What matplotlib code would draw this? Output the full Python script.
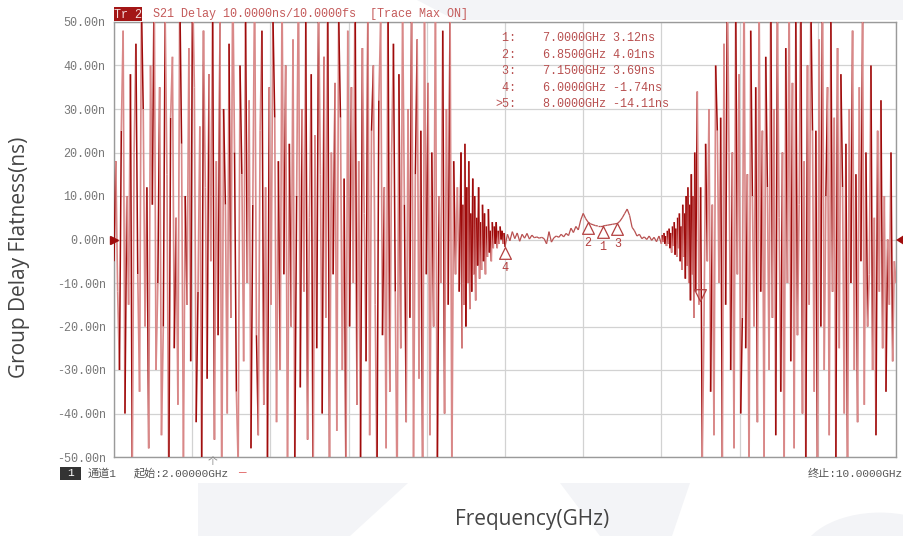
import numpy as np
import matplotlib.pyplot as plt
from matplotlib.patches import Polygon, Rectangle, Circle
from matplotlib.collections import LineCollection
from matplotlib.path import Path

# group delay flatness trace (ns)
left_vals = [-5, 18, -12, -30, 25, 48, -40, 10, -15, 38, -55, 20, 45, -8, -35, 55, 30, -20, 12, -48,
             40, 8, 62, -30, -10, 35, -45, -20, 52, 15, -58, 28, 42, -25, 5, -38, 58, 22, -50, 10,
             -15, 44, -28, 60, 35, -42, -12, 26, -55, 48, 12, -32, 38, -5, 56, -46, 18, -22, 50, -60,
             30, 8, -40, 45, -18, 62, 20, -35, -52, 40, 15, -28, 55, -10, 32, -48, 8, 60, -22, -45,
             25, 48, -38, 12, -58, 35, -15, 52, 28, -42, 18, -30, 58, -8, 40, -55, 22, -20, 46, -50,
             10, 62, -34, 30, -12, 50, -46, 5, 38, -60, 24, -25, 55, 15, -40, 42, -18, 60, -52, 20,
             -8, 36, -44, 52, 28, -30, 14, -58, 48, -20, 35, -10, 62, -38, 18, -50, 44, 6, -28, 56,
             -45, 25, 40, -15, -55, 32, 50, -22, 12, -48, 58, -35, 20, 45, -12, -60, 38, -25, 54, 8,
             -42, 30, -18, 60, -50, 15, 46, -32, 25, -55, 52, -8, 36, -45, 20, -20, 58, -58, 10, -10,
             48, -40, 30, -15, 55, -55, 18, -8, 12, -12]
decay_vals = [20, -25, 8, -15, 22, -20, 12, -10, 18, -16, 6, -12, 14, -8, 10, -14, 5, -6, 12, -9,
              4, -7, 8, -5, 6, -8, 3, -4, 7, -3, 2, -5, 4, -2, 3, -1, 4, -2, 2, -1, 3, 0, 2, -1, 1.5]
flat_vals = [-1.7, 1.2, -0.3, 1.8, 0.2, 1.5, -0.4, 1.2, 0.3, 1.4, 0.1, 1.0, 0.4, 0.6, 0.3, 0.5,
             0.2, -1.0, 1.8, -0.6, 0.4, 0.8, 0.5, 1.2, 0.6, 1.4, 0.9, 2.6, 1.6, 3.0, 2.2, 4.5,
             6.0, 4.8, 4.0, 3.6, 3.4, 3.2, 3.1, 3.1, 3.1, 3.2, 3.3, 3.4, 3.5, 3.6, 3.7, 4.2,
             5.0, 6.0, 7.0, 5.5, 2.8, 2.0, 0.8, 1.2, 0.2, 0.6, 0.0, 0.8, -0.2, 0.5, -0.5, 0.8, -1.0]
rise_vals = [1.0, -0.5, 1.5, -1, 0.8, -1.5, 2, -1, 2.5, -2, 1.5, -3, 3, -1.5, 4, -3.5, 2.5, -4, 5, -2,
             6, -5, 3, -7, 8, -4, 6, -9, 10, -6, 12, -10, 8, -14, 15, -8, 10, -18, 20, -12]
right_vals = [34, -15, 12, -50, -20, 22, -5, 30, -35, 8, -45, 40, 25, -10, 28, -52, 45, -15, 60, 20,
              -30, 20, -48, 55, -8, 38, -40, -18, 62, -25, 15, -55, 48, 10, -20, 35, -42, 58, -12, 25,
              -50, 42, 12, -30, 60, -18, 30, -45, 52, 5, -35, 20, -55, 44, -10, 58, -28, 36, -48, 50,
              -22, 8, 62, -40, 18, -52, 40, -15, 55, 25, -35, 25, -58, 46, -20, 60, -30, 10, 35, -45,
              50, -12, 28, -50, 44, -25, 38, 12, -40, 22, -55, 30, -10, 48, -30, 15, -42, 35, -5, 50,
              -38, 20, -20, -8, 40, -30, 5, -45, 25, -12, 32, -25, 10, -35, 0, -15, 20, -28, -5, -10]

# markers from the table
mk_names = ["1", "2", "3", "4", "5"]
mk_freq = [7.0, 6.85, 7.15, 6.0, 8.0]
mk_val = [3.12, 4.01, 3.69, -1.74, -14.11]

# linear sweep, piece by piece
freq = np.concatenate([
    np.linspace(2.0, 5.55, len(left_vals), endpoint=False),
    np.linspace(5.55, 6.0, len(decay_vals), endpoint=False),
    np.linspace(6.0, 7.6, len(flat_vals)),
    np.linspace(7.6, 7.95, len(rise_vals) + 1)[1:],
    np.linspace(7.95, 10.0, len(right_vals) + 1)[1:],
])
delay = np.concatenate([left_vals, decay_vals, flat_vals, rise_vals, right_vals]).astype(float)

W, H = 904, 536
fig = plt.figure(figsize=(W / 100, H / 100), dpi=100)


def fx(x):
    return x / W


def fy(y):
    return 1 - y / H


# faint watermark shapes behind everything
wm = '#f3f4f7'
for pts in [[(417, 0), (904, 0), (904, 20), (455, 20)],
            [(198, 483), (408, 483), (350, 536), (198, 536)],
            [(560, 483), (690, 483), (672, 536), (600, 536)]]:
    fig.patches.append(Polygon([(fx(a), fy(b)) for a, b in pts], closed=True,
                               transform=fig.transFigure, facecolor=wm, edgecolor='none', zorder=0))
fig.patches.append(Circle((fx(880), fy(560)), 80 / W, transform=fig.transFigure,
                          facecolor=wm, edgecolor='none', zorder=0))

ax = fig.add_axes([fx(114), fy(457), (896 - 114) / W, (457 - 22) / H])
ax.set_xlim(2, 10)
ax.set_ylim(-50, 50)
ax.set_xticks(np.linspace(2, 10, 11))
ax.set_yticks(np.arange(-50, 51, 10))
ax.grid(True, color='#d2d2d2', lw=0.9)
ax.set_axisbelow(True)
ax.tick_params(length=0, labelbottom=False)
ax.set_yticklabels(["%.2fn" % v for v in np.arange(-50, 51, 10)],
                   fontfamily='Liberation Mono', fontsize=8.5, color='#777777')
ax.tick_params(axis='y', pad=6)
for s in ax.spines.values():
    s.set_color('#9a9a9a')
    s.set_linewidth(1.0)

# trace: strokes drawn in a mix of dark and light reds like the instrument display
pts = np.column_stack([freq, delay])
segs = np.stack([pts[:-1], pts[1:]], axis=1)
f0, f1 = freq[:-1], freq[1:]
quiet = (f0 >= 6.0) & (f1 <= 7.6)
busy = ((f0 >= 5.55) & (f1 <= 6.0)) | ((f0 >= 7.6) & (f1 <= 7.95))
cols, lws = [], []
for i in range(len(segs)):
    if quiet[i]:
        cols.append('#b85050')
        lws.append(0.9)
    elif (busy[i] and i % 2 == 0) or i % 3 == 0:
        cols.append('#9e0a0a')
        lws.append(1.1)
    else:
        cols.append('#d98888')
        lws.append(1.2)
ax.add_collection(LineCollection(segs, colors=cols, linewidths=lws, zorder=3))

# marker triangles (apex on the trace)
up_tri = Path([(0, 0), (-0.5, -1), (0.5, -1), (0, 0)])
down_tri = Path([(0, 0), (-0.5, 1), (0.5, 1), (0, 0)])
mcol = '#b34040'
for n, f, v in zip(mk_names, mk_freq, mk_val):
    if n == "5":
        ax.plot(f, v, marker=down_tri, ms=17, mfc='none', mec=mcol, mew=0.9, zorder=4)
    else:
        ax.plot(f, v, marker=up_tri, ms=17, mfc='white', mec=mcol, mew=0.9, zorder=4)
        ax.annotate(n, (f, v), xytext=(0, -15), textcoords='offset points', ha='center',
                    va='center', fontfamily='Liberation Mono', fontsize=8.5, color=mcol, zorder=5)

# reference level arrows at 0
ax.plot(2, 0, marker='>', ms=6, color='#a00c0c', clip_on=False, zorder=6)
fig.patches.append(Polygon([(fx(896), fy(240)), (fx(904), fy(235)), (fx(904), fy(245))],
                           transform=fig.transFigure, facecolor='#a00c0c', edgecolor='none'))

# title bar
fig.patches.append(Rectangle((fx(114), fy(21)), 28 / W, 14 / H, transform=fig.transFigure,
                             facecolor='#a31616', edgecolor='none'))
mono = ['Liberation Mono', 'Noto Sans CJK SC']
fig.text(fx(128), fy(14.5), "Tr 2", ha='center', va='center', fontfamily=mono,
         fontsize=8.5, color='#f4dede')
fig.text(fx(153), fy(14.5), "S21 Delay 10.0000ns/10.0000fs  [Trace Max ON]", ha='left',
         va='center', fontfamily=mono, fontsize=8.5, color='#c45a5a')

# marker table
tab_y = [38, 55, 71, 88, 104]
for i, (n, f, v) in enumerate(zip(mk_names, mk_freq, mk_val)):
    lab = (">" if n == "5" else " ") + n + ":"
    fig.text(fx(495), fy(tab_y[i]), lab, ha='left', va='center', fontfamily=mono,
             fontsize=8.5, color='#b85050')
    fig.text(fx(543), fy(tab_y[i]), "%.4fGHz %.2fns" % (f, v), ha='left', va='center',
             fontfamily=mono, fontsize=8.5, color='#b85050')

# status row below the grid
fig.patches.append(Rectangle((fx(60), fy(480)), 21 / W, 13 / H, transform=fig.transFigure,
                             facecolor='#333333', edgecolor='none'))
fig.text(fx(70.5), fy(473.5), "1", ha='center', va='center', fontfamily=mono, fontsize=8,
         color='white')
fig.text(fx(88), fy(473.5), "通道1", ha='left', va='center', fontfamily=mono, fontsize=8,
         color='#555555')
fig.text(fx(134), fy(473.5), "起始:2.00000GHz", ha='left', va='center', fontfamily=mono,
         fontsize=8, color='#555555')
fig.text(fx(238), fy(473), "—", ha='left', va='center', fontfamily=mono, fontsize=9,
         color='#e06060')
fig.text(fx(903), fy(473.5), "终止:10.0000GHz", ha='right', va='center', fontfamily=mono,
         fontsize=8, color='#555555')
fig.text(fx(213), fy(461), "个", ha='center', va='center', fontfamily='Noto Sans CJK SC',
         fontsize=7, color='#888888')

# axis titles
fig.text(fx(20), fy(257), "Group Delay Flatness(ns)", rotation=90, ha='center', va='center',
         fontfamily='Open Sans', fontsize=15, color='#444444')
fig.text(fx(532), fy(520), "Frequency(GHz)", ha='center', va='center',
         fontfamily='Open Sans', fontsize=15, color='#444444')

fig.savefig('out.png', dpi=100)
